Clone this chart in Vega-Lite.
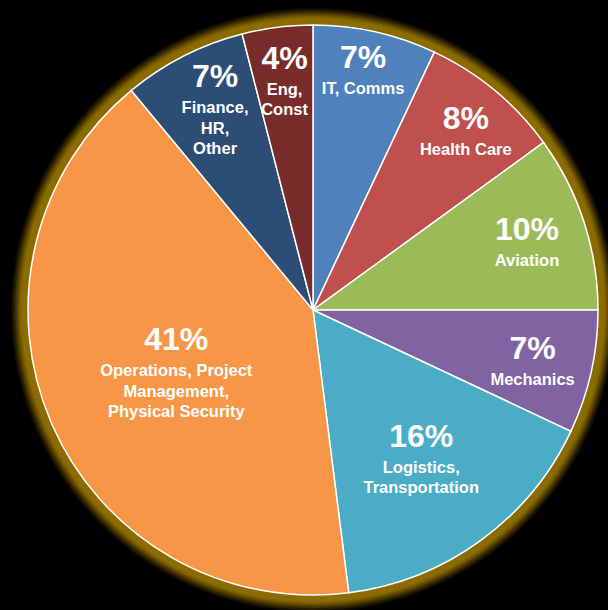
{
  "$schema": "https://vega.github.io/schema/vega-lite/v6.json",
  "width": 608,
  "height": 610,
  "autosize": {"type": "fit", "contains": "padding"},
  "padding": {"left": 18, "top": 10, "right": 0, "bottom": 0},
  "background": "black",
  "config": {"view": {"stroke": null}, "text": {"font": "Liberation Sans", "fontWeight": "bold", "fill": "white", "align": "center"}},
  "data": {"values": [
    {"idx": 1, "key": "it", "share": 0.07, "label": "IT, Comms"},
    {"idx": 2, "key": "health", "share": 0.08, "label": "Health Care"},
    {"idx": 3, "key": "aviation", "share": 0.10, "label": "Aviation"},
    {"idx": 4, "key": "mechanics", "share": 0.07, "label": "Mechanics"},
    {"idx": 5, "key": "logistics", "share": 0.16, "label": "Logistics,\nTransportation"},
    {"idx": 6, "key": "operations", "share": 0.41, "label": "Operations, Project\nManagement,\nPhysical Security"},
    {"idx": 7, "key": "finance", "share": 0.07, "label": "Finance,\nHR,\nOther"},
    {"idx": 8, "key": "eng", "share": 0.04, "label": "Eng,\nConst"}
  ]},
  "resolve": {"scale": {"theta": "independent"}},
  "layer": [
    {"data": {"values": [{"v": 1}]}, "mark": {"type": "arc", "radius": 302, "fill": "#120d00"}, "encoding": {"theta": {"field": "v", "type": "quantitative"}}},
    {"data": {"values": [{"v": 1}]}, "mark": {"type": "arc", "radius": 300, "fill": "#2a2000"}, "encoding": {"theta": {"field": "v", "type": "quantitative"}}},
    {"data": {"values": [{"v": 1}]}, "mark": {"type": "arc", "radius": 298, "fill": "#463500"}, "encoding": {"theta": {"field": "v", "type": "quantitative"}}},
    {"data": {"values": [{"v": 1}]}, "mark": {"type": "arc", "radius": 296, "fill": "#634c00"}, "encoding": {"theta": {"field": "v", "type": "quantitative"}}},
    {"data": {"values": [{"v": 1}]}, "mark": {"type": "arc", "radius": 294, "fill": "#7d6000"}, "encoding": {"theta": {"field": "v", "type": "quantitative"}}},
    {"data": {"values": [{"v": 1}]}, "mark": {"type": "arc", "radius": 292, "fill": "#8c6b00"}, "encoding": {"theta": {"field": "v", "type": "quantitative"}}},
    {
      "mark": {"type": "arc", "radius": 285, "stroke": "white", "strokeWidth": 1.5},
      "encoding": {
        "theta": {"field": "share", "type": "quantitative", "stack": true},
        "order": {"field": "idx", "type": "quantitative"},
        "color": {"field": "key", "type": "nominal", "legend": null,
          "scale": {"domain": ["it", "health", "aviation", "mechanics", "logistics", "operations", "finance", "eng"],
                    "range": ["#4F81BD", "#C0504D", "#9BBB59", "#8064A2", "#4BACC6", "#F79646", "#2C4D75", "#772C2A"]}}
      }
    },
    {
      "encoding": {"theta": {"field": "share", "type": "quantitative", "stack": true}, "order": {"field": "idx", "type": "quantitative"}},
      "layer": [
        {"mark": {"type": "text", "radius": 248, "fontSize": 32, "baseline": "alphabetic", "dx": -4},
         "encoding": {"text": {"condition": {"test": "datum.key == 'it'", "field": "share", "type": "quantitative", "format": ".0%"}, "value": ""}}},
        {"mark": {"type": "text", "radius": 248, "fontSize": 16.5, "baseline": "top", "dx": -4, "dy": 13, "lineBreak": "\n", "lineHeight": 20.5},
         "encoding": {"text": {"condition": {"test": "datum.key == 'it'", "field": "label", "type": "nominal"}, "value": ""}}}
      ]
    },
    {
      "encoding": {"theta": {"field": "share", "type": "quantitative", "stack": true}, "order": {"field": "idx", "type": "quantitative"}},
      "layer": [
        {"mark": {"type": "text", "radius": 243, "fontSize": 32, "baseline": "alphabetic", "dx": 2},
         "encoding": {"text": {"condition": {"test": "datum.key == 'eng'", "field": "share", "type": "quantitative", "format": ".0%"}, "value": ""}}},
        {"mark": {"type": "text", "radius": 243, "fontSize": 16.5, "baseline": "top", "dx": 2, "dy": 13, "lineBreak": "\n", "lineHeight": 20.5},
         "encoding": {"text": {"condition": {"test": "datum.key == 'eng'", "field": "label", "type": "nominal"}, "value": ""}}}
      ]
    },
    {
      "encoding": {"theta": {"field": "share", "type": "quantitative", "stack": true}, "order": {"field": "idx", "type": "quantitative"}},
      "layer": [
        {"mark": {"type": "text", "radius": 235, "fontSize": 32, "baseline": "alphabetic", "dx": 3},
         "encoding": {"text": {"condition": {"test": "datum.key == 'health'", "field": "share", "type": "quantitative", "format": ".0%"}, "value": ""}}},
        {"mark": {"type": "text", "radius": 235, "fontSize": 16.5, "baseline": "top", "dx": 3, "dy": 13, "lineBreak": "\n", "lineHeight": 20.5},
         "encoding": {"text": {"condition": {"test": "datum.key == 'health'", "field": "label", "type": "nominal"}, "value": ""}}}
      ]
    },
    {
      "encoding": {"theta": {"field": "share", "type": "quantitative", "stack": true}, "order": {"field": "idx", "type": "quantitative"}},
      "layer": [
        {"mark": {"type": "text", "radius": 240, "fontSize": 32, "baseline": "alphabetic", "dx": 11, "dy": -9},
         "encoding": {"text": {"condition": {"test": "datum.key == 'finance'", "field": "share", "type": "quantitative", "format": ".0%"}, "value": ""}}},
        {"mark": {"type": "text", "radius": 240, "fontSize": 16.5, "baseline": "top", "dx": 11, "dy": 4, "lineBreak": "\n", "lineHeight": 20.5},
         "encoding": {"text": {"condition": {"test": "datum.key == 'finance'", "field": "label", "type": "nominal"}, "value": ""}}}
      ]
    },
    {
      "encoding": {"theta": {"field": "share", "type": "quantitative", "stack": true}, "order": {"field": "idx", "type": "quantitative"}},
      "layer": [
        {"mark": {"type": "text", "radius": 225, "fontSize": 32, "baseline": "alphabetic"},
         "encoding": {"text": {"condition": {"test": "datum.key == 'aviation' || datum.key == 'mechanics'", "field": "share", "type": "quantitative", "format": ".0%"}, "value": ""}}},
        {"mark": {"type": "text", "radius": 225, "fontSize": 16.5, "baseline": "top", "dy": 13, "lineBreak": "\n", "lineHeight": 20.5},
         "encoding": {"text": {"condition": {"test": "datum.key == 'aviation' || datum.key == 'mechanics'", "field": "label", "type": "nominal"}, "value": ""}}}
      ]
    },
    {
      "encoding": {"theta": {"field": "share", "type": "quantitative", "stack": true}, "order": {"field": "idx", "type": "quantitative"}},
      "layer": [
        {"mark": {"type": "text", "radius": 174, "fontSize": 32, "baseline": "alphabetic", "dx": 6, "dy": -4},
         "encoding": {"text": {"condition": {"test": "datum.key == 'logistics'", "field": "share", "type": "quantitative", "format": ".0%"}, "value": ""}}},
        {"mark": {"type": "text", "radius": 174, "fontSize": 16.5, "baseline": "top", "dx": 6, "dy": 9, "lineBreak": "\n", "lineHeight": 20.5},
         "encoding": {"text": {"condition": {"test": "datum.key == 'logistics'", "field": "label", "type": "nominal"}, "value": ""}}}
      ]
    },
    {
      "encoding": {"theta": {"field": "share", "type": "quantitative", "stack": true}, "order": {"field": "idx", "type": "quantitative"}},
      "layer": [
        {"mark": {"type": "text", "radius": 149, "fontSize": 32, "baseline": "alphabetic", "dy": -19},
         "encoding": {"text": {"condition": {"test": "datum.key == 'operations'", "field": "share", "type": "quantitative", "format": ".0%"}, "value": ""}}},
        {"mark": {"type": "text", "radius": 149, "fontSize": 16.5, "baseline": "top", "dy": -6, "lineBreak": "\n", "lineHeight": 20.5},
         "encoding": {"text": {"condition": {"test": "datum.key == 'operations'", "field": "label", "type": "nominal"}, "value": ""}}}
      ]
    }
  ]
}
